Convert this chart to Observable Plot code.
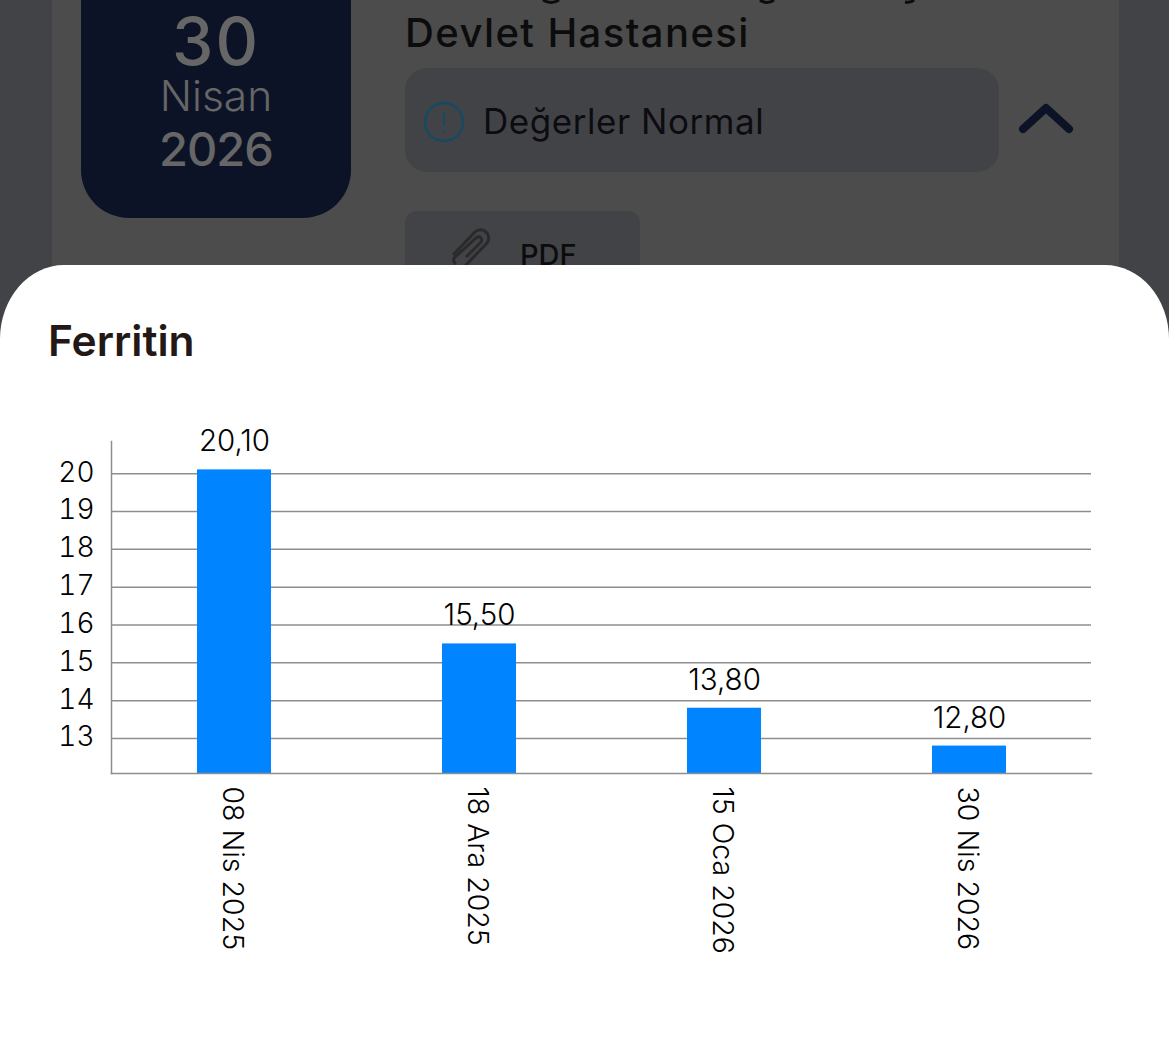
<!DOCTYPE html>
<html><head><meta charset="utf-8">
<script src="https://cdn.jsdelivr.net/npm/d3@7"></script>
<script src="https://cdn.jsdelivr.net/npm/@observablehq/plot@0.6"></script>
<style>
html,body{margin:0;padding:0;background:#424347;}
#page{position:relative;width:1169px;height:1055px;overflow:hidden;background:#424347;font-family:Inter,sans-serif;}
#page div{position:absolute;box-sizing:border-box;}
#panel{left:52px;top:-20px;width:1067px;height:320px;background:#4c4c4c;}
#date{left:81px;top:-40px;width:270px;height:258px;background:#0d1326;border-radius:0 0 48px 48px;color:#666;text-align:center;}
#date .t{line-height:1;}
.t{white-space:nowrap;}
#hosp{left:405px;top:8px;font-size:40px;font-weight:500;letter-spacing:1.4px;color:#0c0c0c;}
#pill{left:405px;top:68px;width:594px;height:104px;background:#424347;border-radius:22px;}
#norm{left:483px;top:100px;font-size:35px;font-weight:400;letter-spacing:.55px;color:#0c0c10;}
#pdfb{left:405px;top:211px;width:235px;height:70px;background:#424347;border-radius:12px;}
#pdf{left:520px;top:237px;font-size:29px;font-weight:500;color:#0c0c0c;}
#sheet{left:0;top:265px;width:1169px;height:800px;background:#fff;border-radius:64px 64px 0 0 / 74px 74px 0 0;}
#title{left:48px;top:315px;font-size:42.5px;font-weight:600;color:#231815;}
#chart{left:0;top:400px;}
#chart svg{display:block;}
</style></head><body>
<div id="page">
  <div id="panel"></div>
  <div id="date">
    <div class="t" style="left:0;width:270px;top:48px;font-size:66px;font-weight:500;letter-spacing:2px;">30</div>
    <div class="t" style="left:0;width:270px;top:115px;font-size:42.5px;font-weight:300;">Nisan</div>
    <div class="t" style="left:0;width:270px;top:165px;font-size:47px;font-weight:500;letter-spacing:-1px;">2026</div>
  </div>
  <svg style="position:absolute;left:0;top:0" width="1169" height="6"><path d="M543 0q8 5 16 0M760 0q7 5 14 0M905 2q6 1 9-2" fill="none" stroke="#0c0c0c" stroke-width="3"/></svg>
  <div id="hosp" class="t">Devlet Hastanesi</div>
  <div id="pill"></div>
  <svg style="position:absolute;left:423px;top:101px" width="42" height="42"><circle cx="21" cy="21" r="19" fill="none" stroke="#164a63" stroke-width="2.5"/><path d="M21 11V25M21 29V32" stroke="#164a63" stroke-width="2"/></svg>
  <div id="norm" class="t">Değerler Normal</div>
  <svg style="position:absolute;left:1018px;top:102px" width="56" height="36"><path d="M5 27L28 6L51 27" fill="none" stroke="#0d1326" stroke-width="8" stroke-linecap="round" stroke-linejoin="round"/></svg>
  <div id="pdfb"></div>
  <svg style="position:absolute;left:446px;top:224px" width="50" height="44"><path d="M7 31L28 9a8 8 0 0 1 13 10L19 42M10 40a5 5 0 0 1-2-6L30 14a3 3 0 0 1 5 4L20 33" fill="none" stroke="#2a2a2a" stroke-width="3"/></svg>
  <div id="pdf" class="t">PDF</div>
  <div id="sheet"></div>
  <div id="title" class="t">Ferritin</div>
  <div id="chart"></div>
</div>
<script>
const dates = ["08 Nis 2025", "18 Ara 2025", "15 Oca 2026", "30 Nis 2026"];
const values = [20.10, 15.50, 13.80, 12.80];
const valueLabels = ["20,10", "15,50", "13,80", "12,80"];
const yTicks = [13, 14, 15, 16, 17, 18, 19, 20];
const yMin = 12.075, yMax = 20.85;
const rows = dates.map((d, i) => ({date: d, value: values[i], label: valueLabels[i], base: yMin}));
const plot = Plot.plot({
  width: 1169, height: 655,
  marginTop: 41, marginBottom: 282, marginLeft: 111, marginRight: 78,
  style: {background: "transparent", fontFamily: "Inter, sans-serif", fontSize: "28px", color: "#000"},
  x: {domain: dates, paddingInner: 0.7, paddingOuter: 0.35, label: null},
  y: {domain: [yMin, yMax], label: null},
  marks: [
    Plot.ruleY(yTicks, {stroke: "#8e8e8e", strokeWidth: 1.5, strokeOpacity: 1}),
    Plot.barY(rows, {x: "date", y1: "base", y2: "value", fill: "#0084ff"}),
    Plot.frame({anchor: "left", stroke: "#8e8e8e", strokeWidth: 1.5}),
    Plot.frame({anchor: "bottom", stroke: "#8e8e8e", strokeWidth: 1.5}),
    Plot.axisY({ticks: yTicks, tickSize: 0, tickPadding: 17, dy: -1, tickFormat: d => String(d), fontSize: 28, fontWeight: 300, fill: "#000", label: null}),
    Plot.axisX({tickSize: 0, tickPadding: 13, tickRotate: 90, dx: -2, fontSize: 28.5, fontWeight: 300, fill: "#000", label: null}),
    Plot.text(rows, {x: "date", y: "value", text: "label", dy: -28, fontSize: 29.5, fontWeight: 300, fill: "#000"})
  ]
});
document.getElementById("chart").appendChild(plot);
</script>
</body></html>
